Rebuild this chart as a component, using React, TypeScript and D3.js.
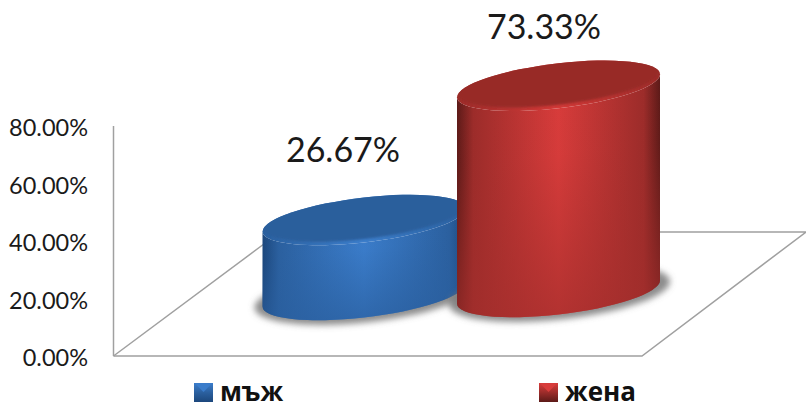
import React from "react";
import * as d3 from "d3";

const categories = ["мъж", "жена"];
const values = [26.67, 73.33];
const valueLabels = ["26.67%", "73.33%"];
const ticks = [0, 20, 40, 60, 80];
const barColors = [
  { edge: "#1c477c", mid2: "#2b609f", mid: "#3b7dcb", top: "#2c5f9c", rim: "#3d7ecb", low: "#2a5f9f" },
  { edge: "#5c1a18", mid2: "#9c2c2a", mid: "#d83c3b", top: "#982b28", rim: "#d23a38", low: "#a32e2c" },
];
const centerX = [364, 558.5];
const baseYs = [295, 292];
const labelPos = [{ x: 343, y: 162 }, { x: 544, y: 39 }];
const legendX = [194, 539];

const FONT = "Lato, Carlito, 'Open Sans', sans-serif";
const yAxis = d3.scaleLinear().domain([0, 80]).range([356, 126]);
const yHeight = d3.scaleLinear().domain([0, 80]).range([0, 225]);
const a = 101.5, b = -11.5, c = 22.5;
const shapeT = (cx: number, cy: number, s = 1) =>
  `matrix(${a * s},${b * s},0,${c * s},${cx},${cy})`;

export default function App() {
  const cyl = (i: number) => {
    const cx = centerX[i];
    const h = yHeight(values[i]);
    const baseY = baseYs[i];
    const cyTop = baseY - h;
    const hu = h / c;
    const side = `M-1,0 L-1,${hu} A1,1 0 0 0 1,${hu} L1,0 A1,1 0 0 1 -1,0 Z`;
    return (
      <g key={categories[i]}>
        <g filter="url(#blurS)">
          <ellipse rx={1} ry={1} transform={`matrix(${a + 9},${b},0,${c + 4},${cx + 1},${baseY + 1})`} fill="#707070" opacity={0.8} />
        </g>
        <path d={side} transform={shapeT(cx, cyTop)} fill={`url(#side${i})`} />
        <path d={side} transform={shapeT(cx, cyTop)} fill={`url(#shade${i})`} />
        <ellipse rx={1} ry={1} transform={shapeT(cx, cyTop)} fill={`url(#rim${i})`} />
        <clipPath id={`clipTop${i}`}>
          <ellipse rx={1} ry={1} transform={shapeT(cx, cyTop)} />
        </clipPath>
        <g clipPath={`url(#clipTop${i})`}>
          <g filter="url(#blurT)">
            <ellipse rx={1} ry={1} transform={shapeT(cx, cyTop - 3.5)} fill={barColors[i].top} />
          </g>
        </g>
      </g>
    );
  };
  return (
    <svg width={806} height={403} style={{ position: "absolute", left: 0, top: 0, background: "#fff" }} fontFamily={FONT}>
      <defs>
        <filter id="blurS" x="-20%" y="-40%" width="140%" height="180%"><feGaussianBlur stdDeviation="3" /></filter>
        <filter id="blurT" x="-10%" y="-20%" width="120%" height="140%"><feGaussianBlur stdDeviation="1" /></filter>
        {barColors.map((col, i) => (
          <React.Fragment key={i}>
            <linearGradient id={`side${i}`} x1="0" x2="1" y1="0" y2="0">
              <stop offset="0" stopColor={col.edge} />
              <stop offset="0.08" stopColor={col.mid2} />
              <stop offset="0.5" stopColor={col.mid} />
              <stop offset="0.92" stopColor={col.mid2} />
              <stop offset="1" stopColor={col.edge} />
            </linearGradient>
            <linearGradient id={`shade${i}`} x1="0" x2="0" y1="0" y2="1">
              <stop offset="0" stopColor={col.low} stopOpacity={0} />
              <stop offset="0.3" stopColor={col.low} stopOpacity={0.05} />
              <stop offset="1" stopColor={col.low} stopOpacity={0.7} />
            </linearGradient>
            <linearGradient id={`rim${i}`} x1="0" x2="1" y1="0" y2="0">
              <stop offset="0" stopColor={col.mid2} />
              <stop offset="0.5" stopColor={col.rim} />
              <stop offset="1" stopColor={col.mid2} />
            </linearGradient>
            <linearGradient id={`leg${i}`} x1="0" x2="0" y1="0" y2="1">
              <stop offset="0" stopColor={col.mid} />
              <stop offset="0.5" stopColor={col.mid2} />
              <stop offset="1" stopColor={col.edge} />
            </linearGradient>
          </React.Fragment>
        ))}
      </defs>

      <g fill="none" stroke="#a0a0a0" strokeWidth={1.5}>
        <line x1={113.5} x2={113.5} y1={yAxis(80)} y2={yAxis(0)} />
        <path d="M113.5,356 L642,356 L806,232 L655,232" />
        <path d="M113.5,356 L268,241" />
      </g>

      {ticks.map((t) => (
        <text key={t} x={88} y={yAxis(t) + 10} textAnchor="end" fontSize={23.5} fill="#1a1a1a">
          {d3.format(".2f")(t)}%
        </text>
      ))}

      {values.map((_, i) => cyl(i))}

      {valueLabels.map((l, i) => (
        <text key={l} x={labelPos[i].x} y={labelPos[i].y} textAnchor="middle" fontSize={34} fill="#1a1a1a">
          {l}
        </text>
      ))}

      {categories.map((cat, i) => (
        <g key={cat}>
          <rect x={legendX[i]} y={383} width={19} height={19} fill={`url(#leg${i})`} />
          <path d={`M${legendX[i] + 1},383.5 h17 l-8.5,8.5 Z`} fill={barColors[i].mid} />
          <text x={legendX[i] + 26} y={401} fontSize={26} fontWeight={700} fill="#111" fontFamily="'Open Sans', 'Noto Sans', sans-serif">
            {cat}
          </text>
        </g>
      ))}
    </svg>
  );
}
